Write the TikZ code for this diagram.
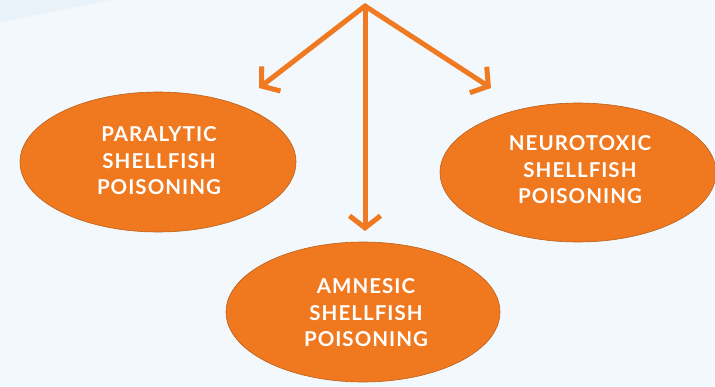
\documentclass[tikz,border=0pt]{standalone}
\usepackage{fontspec}
\setmainfont{Lato}
\newfontfamily\lblfont[LetterSpace=5]{Lato}
\usetikzlibrary{arrows.meta,shapes.geometric}
\definecolor{bgc}{HTML}{F3F8FC}
\definecolor{bgd}{HTML}{E9F1F9}
\definecolor{org}{HTML}{F0781E}
\definecolor{orgd}{HTML}{B8621F}
\definecolor{arr}{HTML}{F07A22}
\tikzset{
  blob/.style={ellipse, fill=org, draw=orgd, line width=0.6pt, inner sep=0pt},
  lbl/.style={text=white, font=\lblfont\bfseries\fontsize{20.5}{26.5}\selectfont, align=center},
  arrline/.style={draw=arr, line width=5pt, line cap=round, line join=round,
    -{Straight Barb[length=12pt, width=31pt, line width=5pt]}}
}
\begin{document}
\begin{tikzpicture}[x=1pt,y=-1pt]
\fill[bgc] (0,0) rectangle (715,386);
\fill[bgd] (0,0) -- (110,0) -- (0,22) -- cycle;
\useasboundingbox (0,0) rectangle (715,386);
\node[blob, minimum width=276pt, minimum height=140pt] (para) at (158,162) {};
\node[blob, minimum width=276pt, minimum height=139pt] (neuro) at (578,172.5) {};
\node[blob, minimum width=274pt, minimum height=140pt] (amn) at (363,312) {};
\node[lbl] (tpara) at (159,161) {PARALYTIC\\SHELLFISH\\POISONING};
\node[lbl] (tneuro) at (580,170) {NEUROTOXIC\\SHELLFISH\\POISONING};
\node[lbl] (tamn) at (366,313) {AMNESIC\\SHELLFISH\\POISONING};
\coordinate (apex) at (365,6);
\coordinate (tl) at (259,88);
\coordinate (tr) at (491,88);
\coordinate (tb) at (365,231);
\draw[arrline] (apex) -- (tl);
\draw[arrline] (apex) -- (tr);
\draw[arrline] (apex) -- (tb);
\end{tikzpicture}
\end{document}
